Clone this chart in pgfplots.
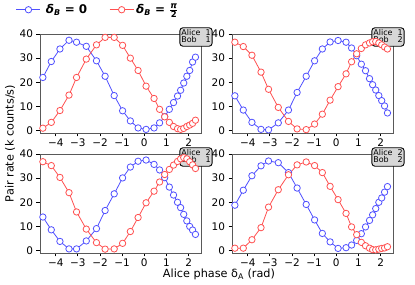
\documentclass[border=0pt]{standalone}
\usepackage{fontspec}
\setmainfont{DejaVu Sans}
\usepackage{pgfplots}
\usepackage{pgfplotstable}
\pgfplotsset{compat=1.18}
\definecolor{blueA}{RGB}{80,80,255}
\definecolor{redA}{RGB}{255,80,80}
\definecolor{boxgray}{RGB}{215,215,215}

\pgfplotstableread{
x b r
-4.58 22.0 1.0
-4.20 28.6 3.4
-3.81 33.8 8.3
-3.40 37.4 14.7
-3.06 36.6 22.0
-2.62 34.9 29.6
-2.16 28.9 35.5
-1.77 22.5 38.6
-1.36 14.5 38.6
-0.98 8.2 35.3
-0.63 4.0 30.0
-0.28 1.1 24.9
0.08 0.5 18.4
0.44 1.1 13.3
0.69 3.2 8.8
0.92 5.8 5.7
1.13 8.8 3.4
1.32 11.6 1.7
1.50 14.3 0.8
1.64 16.7 0.5
1.78 19.7 0.9
1.92 22.5 1.7
2.05 24.9 2.3
2.18 28.4 3.0
2.31 30.4 4.3
}\tabTL

\pgfplotstableread{
x b r
-4.58 14.4 36.6
-4.20 8.5 34.8
-3.81 3.4 31.2
-3.40 0.5 24.2
-3.06 0.3 17.1
-2.62 3.2 9.6
-2.16 8.5 3.8
-1.77 15.8 0.7
-1.36 22.5 0.4
-0.98 28.9 2.7
-0.63 33.8 6.8
-0.28 36.7 12.6
0.08 37.3 18.2
0.44 36.6 23.5
0.69 34.2 28.5
0.92 31.0 31.8
1.13 27.5 34.0
1.32 24.8 35.5
1.50 21.5 36.3
1.64 19.0 36.8
1.78 16.8 36.9
1.92 14.5 36.3
2.05 12.4 35.5
2.18 10.2 34.6
2.31 7.3 33.8
}\tabTR

\pgfplotstableread{
x b r
-4.58 13.9 36.8
-4.20 8.6 35.2
-3.81 3.8 30.3
-3.40 0.7 24.0
-3.06 0.7 16.0
-2.62 4.0 8.9
-2.16 9.1 3.3
-1.77 16.6 0.6
-1.36 23.5 0.7
-0.98 30.1 3.0
-0.63 34.6 7.9
-0.28 37.0 13.7
0.08 37.5 19.8
0.44 35.7 24.6
0.69 33.4 28.4
0.92 30.2 31.5
1.13 26.3 33.6
1.32 23.0 35.4
1.50 20.0 36.9
1.64 17.8 38.0
1.78 15.0 38.5
1.92 12.3 38.0
2.05 10.0 36.8
2.18 8.5 35.5
2.31 6.7 34.0
}\tabBL

\pgfplotstableread{
x b r
-4.58 18.8 1.0
-4.20 25.0 1.0
-3.81 31.0 4.5
-3.40 35.1 9.5
-3.06 37.1 18.0
-2.62 36.4 25.2
-2.16 32.3 31.4
-1.77 25.9 35.5
-1.36 19.1 36.7
-0.98 12.7 35.2
-0.63 7.1 32.3
-0.28 3.6 26.6
0.08 0.9 21.1
0.44 1.2 15.4
0.69 2.3 9.8
0.92 4.2 6.6
1.13 7.0 3.4
1.32 9.8 2.0
1.50 12.5 1.0
1.64 14.8 0.4
1.78 17.4 0.3
1.92 20.0 0.6
2.05 21.8 0.9
2.18 24.2 1.1
2.31 26.5 1.6
}\tabBR

\pgfplotsset{
  panel/.style={
    width=161bp, height=99bp, scale only axis, anchor=south west,
    xmin=-4.71, xmax=2.56, ymin=-1, ymax=40,
    xtick={-4,-3,-2,-1,0,1,2},
    xticklabels={−4,−3,−2,−1,0,1,2},
    ytick={0,10,20,30,40},
    yticklabels={0,10,20,30,40},
    tick align=outside, tick pos=left,
    major tick length=3.5bp,
    axis line style={black!65, line width=0.8bp},
    every tick/.style={black, line width=0.8bp},
    ticklabel style={font=\fontsize{10.5}{12}\selectfont},
    xticklabel style={yshift=1bp},
    clip=false,
  },
  bser/.style={color=blueA, line width=0.8bp, mark=*, mark size=3.2bp,
    mark options={fill=white, line width=0.8bp}},
  rser/.style={color=redA, line width=0.8bp, mark=*, mark size=3.2bp,
    mark options={fill=white, line width=0.8bp}},
}
\newcommand{\abox}[2]{%
  \node[draw=black, line width=0.9bp, fill=boxgray, rounded corners=3bp,
        inner xsep=1.5bp, inner ysep=1bp, font=\fontsize{8}{9}\selectfont]
    at ([xshift=-5bp,yshift=-3bp]rel axis cs:1,1)
    {\begin{tabular}{@{}l@{\hspace{5pt}}r@{}}Alice & #1\\[-1.5pt] Bob & #2\end{tabular}};}

\begin{document}
\begin{tikzpicture}[x=1bp,y=1bp]
\path[use as bounding box] (0,0) rectangle (415,285);

\begin{axis}[panel, at={(40bp,152bp)},
  legend columns=2,
  legend style={at={(axis description cs:-0.15,1.245)}, anchor=west,
    draw=none, fill=none, inner sep=0pt,
    font=\fontsize{12}{13}\selectfont,
    /tikz/every even column/.append style={column sep=20bp}},
  legend image code/.code={\draw[mark repeat=2,mark phase=2,#1] plot coordinates {(0bp,0bp) (12bp,0bp) (24bp,0bp)};},
]
\addplot[bser] table[x=x,y=b] {\tabTL};
\addlegendentry{\hspace{3bp}\bfseries\itshape δ\textsubscript{B}\upshape\ = 0}
\addplot[rser] table[x=x,y=r] {\tabTL};
\addlegendentry{\bfseries\itshape δ\textsubscript{B}\upshape\ = $\frac{\hbox{\fontsize{8.5}{8.5}\selectfont\bfseries\itshape π}}{\hbox{\fontsize{8.5}{8.5}\selectfont\bfseries 2}}$}
\abox{1}{1}
\end{axis}

\begin{axis}[panel, at={(232bp,152bp)}]
\addplot[bser] table[x=x,y=b] {\tabTR};
\addplot[rser] table[x=x,y=r] {\tabTR};
\abox{1}{2}
\end{axis}

\begin{axis}[panel, at={(40bp,32bp)}]
\addplot[bser] table[x=x,y=b] {\tabBL};
\addplot[rser] table[x=x,y=r] {\tabBL};
\abox{2}{1}
\end{axis}

\begin{axis}[panel, at={(232bp,32bp)}]
\addplot[bser] table[x=x,y=b] {\tabBR};
\addplot[rser] table[x=x,y=r] {\tabBR};
\abox{2}{2}
\end{axis}

\node[rotate=90, font=\fontsize{11.3}{13}\selectfont] at (10,141.5) {Pair rate (k counts/s)};
\node[font=\fontsize{11.3}{13}\selectfont] at (219,11) {Alice phase δ\textsubscript{A} (rad)};
\end{tikzpicture}
\end{document}
